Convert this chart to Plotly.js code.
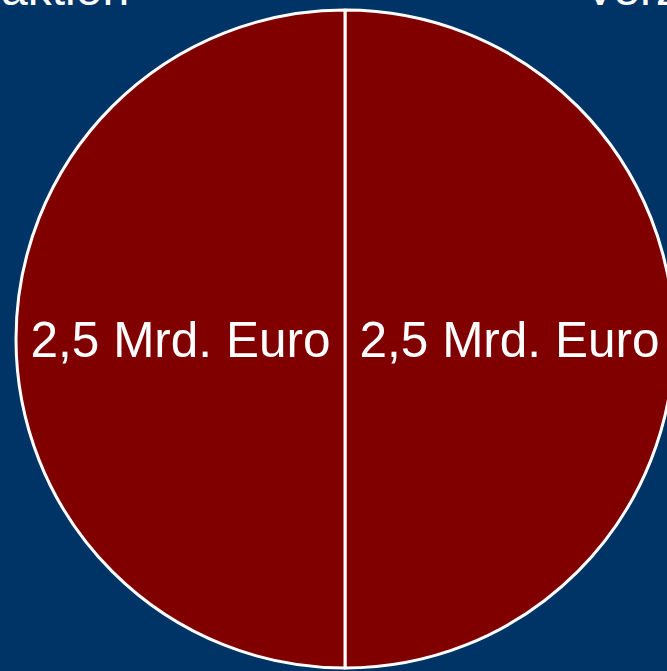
<!DOCTYPE html>
<html>
<head>
<meta charset="utf-8">
<script src="https://cdn.plot.ly/plotly-3.0.1.min.js"></script>
<style>
  html, body { margin: 0; padding: 0; width: 667px; height: 671px; overflow: hidden; background: #003366; }
  #chart { position: absolute; left: -84px; top: -50px; }
</style>
</head>
<body>
<div id="chart"></div>
<script>
const sliceLabels = ["Anteil 1", "Anteil 2"];
const sliceValues = [2.5, 2.5];
const unitSuffix = " Mrd. Euro";
const headLeft = "aktion";
const headRight = "Verz";

const ML = 100, MR = 100, MT = 60, MB = 10, D = 658;

const trace = {
  type: "pie",
  labels: sliceLabels,
  values: sliceValues,
  sort: false,
  direction: "counterclockwise",
  rotation: 0,
  marker: { colors: ["#800000", "#800000"], line: { color: "#ffffff", width: 3 } },
  texttemplate: "%{value:.1f}" + unitSuffix,
  textposition: "inside",
  insidetextorientation: "horizontal",
  insidetextfont: { family: "Liberation Sans, Arial, sans-serif", size: 49.5, color: "#ffffff" },
  hoverinfo: "none",
  showlegend: false,
  domain: { x: [0, 1], y: [0, 1] }
};

const layout = {
  width: ML + D + MR,
  height: MT + D + MB,
  margin: { l: ML, r: MR, t: MT, b: MB, pad: 0 },
  paper_bgcolor: "#003366",
  plot_bgcolor: "#003366",
  separators: ",.",
  showlegend: false,
  font: { family: "Liberation Sans, Arial, sans-serif", color: "#ffffff" },
  annotations: [
    { text: headLeft, xref: "paper", yref: "paper", x: (131 - 16) / D, y: 1, xanchor: "right", yanchor: "bottom",
      yshift: -7, showarrow: false, font: { size: 48, color: "#ffffff" } },
    { text: headRight, xref: "paper", yref: "paper", x: (582 - 16) / D, y: 1, xanchor: "left", yanchor: "bottom",
      yshift: -7, showarrow: false, font: { size: 48, color: "#ffffff" } }
  ]
};

Plotly.newPlot("chart", [trace], layout, { displayModeBar: false, staticPlot: true });
</script>
</body>
</html>
